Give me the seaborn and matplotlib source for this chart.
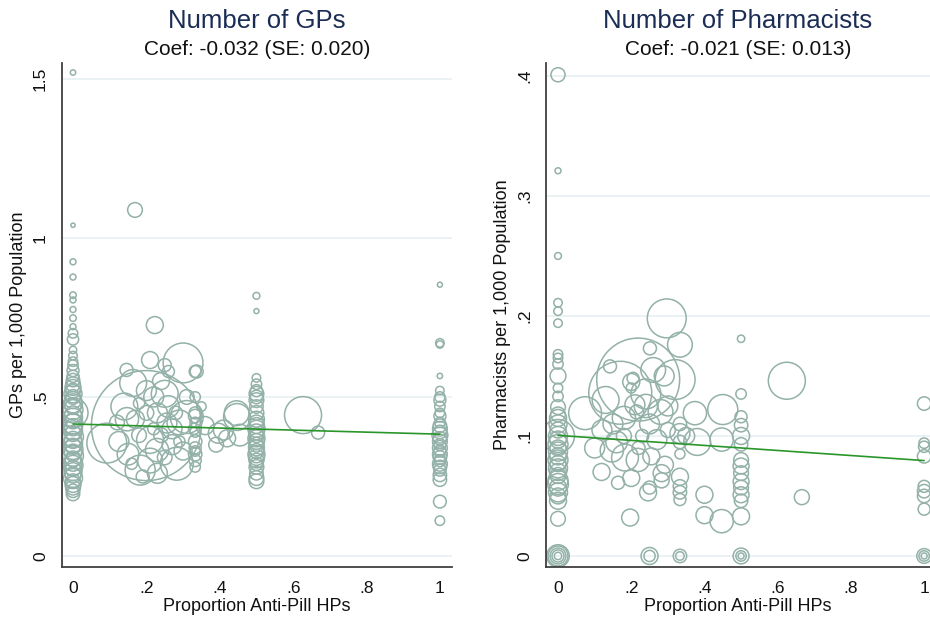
import numpy as np
import pandas as pd
import seaborn as sns
import matplotlib.pyplot as plt

# GP panel: share of anti-pill HPs, GPs per 1,000 and population weight
gp_x = [0, 0, 0, 0, 0, 0, 0, 0, 0, 0, 0, 0, 0, 0, 0, 0, 0, 0, 0, 0,
        0, 0, 0, 0, 0, 0, 0, 0, 0, 0, 0, 0, 0, 0, 0, 0, 0, 0, 0, 0,
        0, 0, 0, 0, 0, 0, 0, 0, 0, 0, 0, 0, 0, 0,
        0.5, 0.5, 0.5, 0.5, 0.5, 0.5, 0.5, 0.5, 0.5, 0.5, 0.5, 0.5, 0.5, 0.5, 0.5,
        0.5, 0.5, 0.5, 0.5, 0.5, 0.5, 0.5, 0.5, 0.5, 0.5, 0.5, 0.5, 0.5, 0.5,
        1, 1, 1, 1, 1, 1, 1, 1, 1, 1, 1, 1, 1, 1, 1, 1, 1, 1, 1, 1, 1, 1, 1,
        1, 1, 1, 1, 1, 1, 1,
        0.333, 0.333, 0.333, 0.333, 0.333, 0.333, 0.333, 0.333, 0.333, 0.333,
        0.333, 0.333,
        0.169, 0.223, 0.627, 0.668, 0.20, 0.30, 0.146, 0.25, 0.337, 0.21,
        0.164, 0.20, 0.25, 0.092, 0.31, 0.447, 0.21, 0.183, 0.283, 0.147,
        0.256, 0.41, 0.229, 0.396, 0.446, 0.455, 0.125, 0.17, 0.20, 0.22,
        0.24, 0.26, 0.27, 0.21, 0.23, 0.30, 0.29, 0.31, 0.26, 0.18, 0.15,
        0.24, 0.28, 0.22, 0.36, 0.14,
        0.12, 0.16, 0.19, 0.25, 0.27, 0.33, 0.35, 0.23, 0.18, 0.29, 0.39, 0.42]
gp_y = [1.52, 1.04, 0.925, 0.877, 0.82, 0.805, 0.775, 0.748, 0.721, 0.70,
        0.681, 0.648, 0.63, 0.611, 0.60, 0.583, 0.565, 0.553, 0.54, 0.53,
        0.52, 0.51, 0.50, 0.49, 0.48, 0.47, 0.46, 0.45, 0.445, 0.435,
        0.425, 0.415, 0.405, 0.395, 0.385, 0.375, 0.365, 0.355, 0.345, 0.335,
        0.325, 0.315, 0.305, 0.295, 0.285, 0.275, 0.265, 0.255, 0.245, 0.235,
        0.225, 0.215, 0.205, 0.195,
        0.818, 0.77, 0.56, 0.54, 0.52, 0.51, 0.50, 0.49, 0.47, 0.45, 0.43,
        0.42, 0.41, 0.40, 0.39, 0.38, 0.37, 0.36, 0.35, 0.34, 0.33, 0.32,
        0.31, 0.30, 0.29, 0.28, 0.26, 0.245, 0.235,
        0.853, 0.67, 0.665, 0.566, 0.52, 0.50, 0.49, 0.47, 0.45, 0.44, 0.42,
        0.41, 0.40, 0.39, 0.38, 0.37, 0.36, 0.35, 0.34, 0.33, 0.32, 0.31,
        0.30, 0.29, 0.28, 0.27, 0.255, 0.24, 0.171, 0.111,
        0.58, 0.50, 0.45, 0.42, 0.39, 0.36, 0.34, 0.33, 0.32, 0.30, 0.28, 0.44,
        1.088, 0.726, 0.443, 0.388, 0.41, 0.607, 0.585, 0.60, 0.58, 0.616,
        0.544, 0.52, 0.51, 0.355, 0.437, 0.437, 0.365, 0.27, 0.29, 0.43,
        0.418, 0.396, 0.333, 0.386, 0.449, 0.38, 0.36, 0.43, 0.45, 0.50,
        0.55, 0.47, 0.35, 0.30, 0.26, 0.33, 0.42, 0.50, 0.58, 0.38, 0.32,
        0.38, 0.45, 0.40, 0.41, 0.47,
        0.42, 0.29, 0.25, 0.31, 0.40, 0.40, 0.47, 0.45, 0.48, 0.36, 0.35, 0.37]
gp_w = [0.8, 0.5, 1, 1, 1.2, 1, 1, 1.2, 1, 2.5, 3.5, 1.5, 2, 2.5, 3, 4,
        4, 5, 6, 7, 6, 9, 6, 8, 10, 7, 11, 25, 8, 10, 7, 11, 8, 10, 7, 12,
        8, 10, 7, 11, 8, 12, 7, 9, 11, 7, 9, 7, 10, 6, 7, 6, 5, 5,
        1.3, 0.7, 2, 3, 4, 6, 5, 6, 5, 6, 7, 6, 7, 8, 7, 6, 8, 7, 6, 7,
        6, 8, 7, 6, 5, 6, 5, 6, 6,
        0.7, 2, 1.5, 0.8, 2, 3, 4, 3, 2.5, 4, 3, 5, 6, 5, 7, 5, 6, 4, 6,
        4, 6, 5, 4, 6, 5, 4, 5, 5, 4.5, 2.5,
        4, 3, 4, 3, 3, 5, 4, 3, 5, 4, 3, 5,
        6, 8, 38, 4.7, 336, 44, 4.7, 4.7, 4.7, 8, 20, 11, 20, 44, 30, 20,
        20, 25, 30, 15, 11, 11, 15, 11, 17, 13, 11, 9, 6, 11, 8, 13, 11, 17,
        11, 9, 17, 6, 4, 6, 13, 6, 5, 4, 9, 20,
        6, 3.5, 4.7, 6, 11, 3.5, 2.5, 11, 3.5, 3.5, 6, 8]

# Pharmacist panel
ph_x = [0, 0, 0, 0, 0, 0, 0, 0, 0, 0, 0, 0, 0, 0, 0, 0, 0, 0, 0, 0,
        0, 0, 0, 0, 0, 0, 0, 0, 0, 0, 0, 0, 0, 0, 0, 0, 0, 0, 0, 0, 0,
        0.5, 0.5, 0.5, 0.5, 0.5, 0.5, 0.5, 0.5, 0.5, 0.5, 0.5, 0.5, 0.5, 0.5,
        0.5, 0.5, 0.5,
        1, 1, 1, 1, 1, 1, 1, 1, 1, 1, 1,
        0.333, 0.333, 0.333, 0.333, 0.333, 0.333, 0.333, 0.333, 0.333, 0.333,
        0.25, 0.25,
        0.297, 0.219, 0.17, 0.32, 0.333, 0.251, 0.142, 0.20, 0.205, 0.20,
        0.21, 0.215, 0.074, 0.374, 0.45, 0.625, 0.666, 0.447, 0.40, 0.40,
        0.197, 0.246, 0.25, 0.283, 0.283, 0.119, 0.164, 0.20, 0.147, 0.183,
        0.218, 0.255, 0.292, 0.447, 0.38, 0.27, 0.15, 0.18, 0.12, 0.25,
        0.28, 0.24, 0.18, 0.23, 0.30, 0.26, 0.29, 0.22,
        0.10, 0.13, 0.16, 0.24, 0.30, 0.35]
ph_y = [0.401, 0.321, 0.25, 0.211, 0.204, 0.194, 0.168, 0.165, 0.16, 0.15,
        0.14, 0.133, 0.124, 0.118, 0.115, 0.11, 0.105, 0.10, 0.10, 0.097,
        0.093, 0.09, 0.087, 0.083, 0.08, 0.077, 0.073, 0.07, 0.067, 0.063,
        0.06, 0.057, 0.053, 0.05, 0.046, 0.031, 0, 0, 0, 0, 0,
        0.181, 0.135, 0.116, 0.109, 0.10, 0.093, 0.08, 0.075, 0.069, 0.062,
        0.057, 0.051, 0.046, 0.033, 0, 0, 0,
        0.127, 0.094, 0.091, 0.083, 0.058, 0.054, 0.05, 0.039, 0, 0, 0,
        0.11, 0.102, 0.095, 0.085, 0.066, 0.058, 0.053, 0.047, 0, 0,
        0, 0,
        0.198, 0.147, 0.136, 0.147, 0.176, 0.173, 0.158, 0.145, 0.148, 0.14,
        0.126, 0.12, 0.119, 0.119, 0.122, 0.146, 0.049, 0.029, 0.051, 0.034,
        0.032, 0.053, 0.057, 0.069, 0.063, 0.07, 0.061, 0.065, 0.088, 0.082,
        0.08, 0.083, 0.076, 0.097, 0.095, 0.097, 0.11, 0.115, 0.105, 0.11,
        0.12, 0.135, 0.10, 0.10, 0.105, 0.155, 0.15, 0.09,
        0.09, 0.13, 0.095, 0.125, 0.125, 0.10]
ph_w = [5.5, 1, 1.3, 2, 2, 2, 2.5, 2.5, 3, 7, 2.5, 3, 6, 6, 8, 9, 7, 30,
        10, 8, 11, 7, 10, 8, 11, 7, 10, 8, 7, 11, 12, 8, 10, 7, 8, 6, 11, 7,
        4, 1.5, 14,
        1.5, 3, 4, 5, 8, 5, 6, 7, 6, 7, 6, 7, 5, 8, 7, 3, 1,
        5, 3, 3.5, 5, 4, 5, 5, 4, 6, 3, 1,
        5, 11, 5, 2.8, 8, 5, 5, 4, 5, 2,
        8, 3.5,
        42, 191, 110, 44, 17, 4.7, 4.7, 8, 4, 2.8, 11, 5.5, 30, 15, 25, 38,
        6.25, 15, 8, 8, 8, 8, 4.7, 8, 6.25, 8, 4.7, 8, 15, 20, 15, 8, 8, 15,
        20, 11, 11, 15, 11, 11, 17, 25, 6.25, 4.7, 6.25, 17, 11, 4.7,
        11, 20, 13, 15, 11, 8]

# Weighted linear fits (coef and intercept)
fit_x = [0, 1]
gp_fit = [0.415, 0.383]
ph_fit = [0.1005, 0.0795]

x_ticks = [0, 0.2, 0.4, 0.6, 0.8, 1]
x_labels = ["0", ".2", ".4", ".6", ".8", "1"]
gp_ticks = [0, 0.5, 1, 1.5]
gp_labels = ["0", ".5", "1", "1.5"]
ph_ticks = [0, 0.1, 0.2, 0.3, 0.4]
ph_labels = ["0", ".1", ".2", ".3", ".4"]

sns.set_style("white")
plt.rcParams['font.family'] = ['Liberation Sans', 'DejaVu Sans']

marker_col = "#93b1a8"
line_col = "#2a962a"
axis_col = "#404040"
grid_col = "#e8f1f2"
title_col = "#1b2d55"

fig = plt.figure(figsize=(9.3, 6.23), dpi=100)
ax_gp = fig.add_axes([62 / 930, 56 / 623, 390 / 930, 504 / 623])
ax_ph = fig.add_axes([546 / 930, 56 / 623, 384 / 930, 504 / 623])

# area of a weight-1 bubble is about a 6 px wide circle
unit_area = (6 / (100 / 72)) ** 2
w_top = 400

panels = [
    (ax_gp, gp_x, gp_y, gp_w, gp_fit, gp_ticks, gp_labels, (-0.0346, 1.550), (-0.030, 1.033),
     "Number of GPs", "Coef: -0.032 (SE: 0.020)", "GPs per 1,000 Population"),
    (ax_ph, ph_x, ph_y, ph_w, ph_fit, ph_ticks, ph_labels, (-0.0092, 0.4108), (-0.0328, 1.016),
     "Number of Pharmacists", "Coef: -0.021 (SE: 0.013)", "Pharmacists per 1,000 Population"),
]

for ax, xs, ys, ws, fit, yt, yl, ylim, xlim, title, sub, ylab in panels:
    df = pd.DataFrame({"x": xs, "y": ys, "w": ws})
    ax.yaxis.grid(True, color=grid_col, linewidth=1.3)
    ax.set_axisbelow(True)
    sns.scatterplot(data=df, x="x", y="y", size="w", size_norm=(0, w_top),
                    sizes=(0, unit_area * w_top), facecolor="none", edgecolor=marker_col,
                    linewidth=1.1, legend=False, ax=ax, zorder=2)
    sns.lineplot(x=fit_x, y=fit, color=line_col, linewidth=1.2, ax=ax, zorder=3)

    ax.set_xlim(*xlim)
    ax.set_ylim(*ylim)
    ax.set_xticks(x_ticks)
    ax.set_xticklabels(x_labels)
    ax.set_yticks(yt)
    ax.set_yticklabels(yl, rotation=90, va="center")
    ax.tick_params(axis="both", labelsize=12.5, color=axis_col, length=6, width=1.1,
                   pad=4, labelcolor="#111111")
    for side in ["top", "right"]:
        ax.spines[side].set_visible(False)
    for side in ["left", "bottom"]:
        ax.spines[side].set_color(axis_col)
        ax.spines[side].set_linewidth(1.3)

    ax.set_xlabel("Proportion Anti-Pill HPs", fontsize=13, color="#111111")
    ax.set_ylabel(ylab, fontsize=13, color="#111111")
    ax.xaxis.set_label_coords(0.5, -0.062)
    ax.yaxis.set_label_coords(-0.09, 0.5)

    pos = ax.get_position()
    cx = (pos.x0 + pos.x1) / 2
    fig.text(cx, 1 - 28 / 623, title, ha="center", va="baseline", fontsize=18.5, color=title_col)
    fig.text(cx, 1 - 55 / 623, sub, ha="center", va="baseline", fontsize=15, color="#111111")

fig.savefig("out.png", dpi=100)
